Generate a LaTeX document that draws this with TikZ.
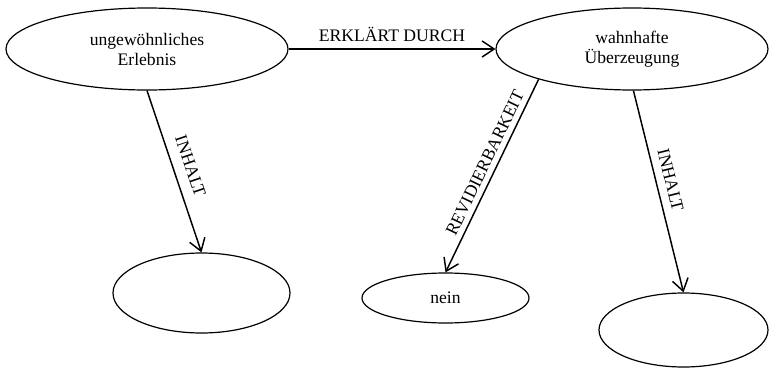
\documentclass[tikz,border=0pt]{standalone}
\usepackage{fontspec}
\setmainfont{Liberation Serif}
\usetikzlibrary{shapes.geometric}
\usetikzlibrary{arrows.meta, positioning}

\begin{document}
\begin{tikzpicture}[x=0.75pt, y=-0.75pt,
    konzept/.style={ellipse, draw, line width=0.9pt, inner sep=0pt,
        align=center, font=\fontsize{13.2}{15}\selectfont},
    relation/.style={-{Straight Barb[length=9pt,width=12pt]}, line width=1.1pt},
    etikett/.style={font=\fontsize{13.2}{15}\selectfont, inner sep=2pt}]
    \useasboundingbox (0,0) rectangle (769,368);

    \node[konzept, minimum width=211.5pt, minimum height=61.5pt] (erlebnis) at (147,49) {ungewöhnliches\\Erlebnis};
    \node[konzept, minimum width=204pt, minimum height=61.5pt] (ueberzeugung) at (632,49) {wahnhafte\\Überzeugung};
    \node[konzept, minimum width=132.75pt, minimum height=60pt] (inhaltA) at (201.5,293) {};
    \node[konzept, minimum width=125.25pt, minimum height=37.5pt] (nein) at (445.5,298) {nein};
    \node[konzept, minimum width=126.75pt, minimum height=55.5pt] (inhaltB) at (683.5,330) {};

    \draw[relation] (erlebnis.east) -- node[etikett, above=3pt] {ERKLÄRT DURCH} (ueberzeugung.west);
    \draw[relation] (erlebnis.south) -- node[etikett, above=6pt, sloped] {INHALT} (inhaltA.north);
    \draw[relation] (ueberzeugung.198) -- node[etikett, above=2pt, sloped, pos=0.46] {REVIDIERBARKEIT} (nein.north);
    \draw[relation] (ueberzeugung.-88) -- node[etikett, above=4pt, sloped, pos=0.46] {INHALT} (inhaltB.north);
\end{tikzpicture}
\end{document}
